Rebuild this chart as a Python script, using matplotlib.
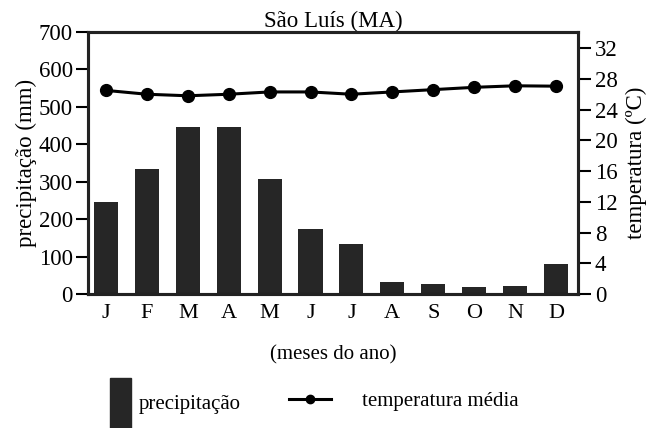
import matplotlib.pyplot as plt
from matplotlib.patches import Patch
from matplotlib.lines import Line2D

plt.rcParams["font.family"] = ["Liberation Serif", "DejaVu Serif"]

meses = ["J", "F", "M", "A", "M", "J", "J", "A", "S", "O", "N", "D"]
precipitacao = [247, 334, 447, 447, 306, 173, 133, 33, 28, 18, 22, 80]
temperatura = [26.5, 26.0, 25.8, 26.0, 26.3, 26.3, 26.0, 26.3, 26.6, 26.9, 27.1, 27.05]
ticks_prec = [0, 100, 200, 300, 400, 500, 600, 700]
ticks_temp = [0, 4, 8, 12, 16, 20, 24, 28, 32]

cor_barra = "#262626"
x = list(range(len(meses)))

fig = plt.figure(figsize=(6.51, 4.28), dpi=100)
ax = fig.add_axes([0.1352, 0.3131, 0.7527, 0.6121])
ax2 = ax.twinx()

ax.bar(x, precipitacao, width=0.59, color=cor_barra)
ax.set_ylim(0, 700)
ax.set_xlim(-0.44, 11.54)
ax.set_yticks(ticks_prec)
ax.set_xticks(x)
ax.set_xticklabels(meses)
ax.tick_params(axis="x", length=0, labelsize=16, pad=7)
ax.tick_params(axis="y", direction="out", length=9, width=1.5, labelsize=16.5, pad=2)
ax.set_ylabel("precipitação (mm)", fontsize=16.5, labelpad=1)
ax.set_xlabel("(meses do ano)", fontsize=15, labelpad=16)

ax2.plot(x, temperatura, color="black", lw=2.2, marker="o", ms=8.5)
ax2.set_ylim(0, 34.1)
ax2.set_yticks(ticks_temp)
ax2.tick_params(axis="y", direction="out", length=9, width=1.5, labelsize=16.5, pad=3)
ax2.set_ylabel("temperatura (ºC)", fontsize=16.5, labelpad=6)

for a in (ax, ax2):
    for s in a.spines.values():
        s.set_linewidth(2.2)
        s.set_color("#222222")

ax.set_title("São Luís (MA)", fontsize=16.5, pad=3)

fig.legend(handles=[Patch(color=cor_barra, label="precipitação")],
           loc="center left", bbox_to_anchor=(0.140, 0.058), frameon=False,
           fontsize=15, handlelength=1.03, handleheight=3.3, handletextpad=0.35)
fig.legend(handles=[Line2D([], [], color="black", lw=2.2, marker="o", ms=6,
                           label="temperatura média")],
           loc="center left", bbox_to_anchor=(0.415, 0.063), frameon=False,
           fontsize=15, handlelength=2.0, handletextpad=1.5)

fig.savefig("out.png", dpi=100)
